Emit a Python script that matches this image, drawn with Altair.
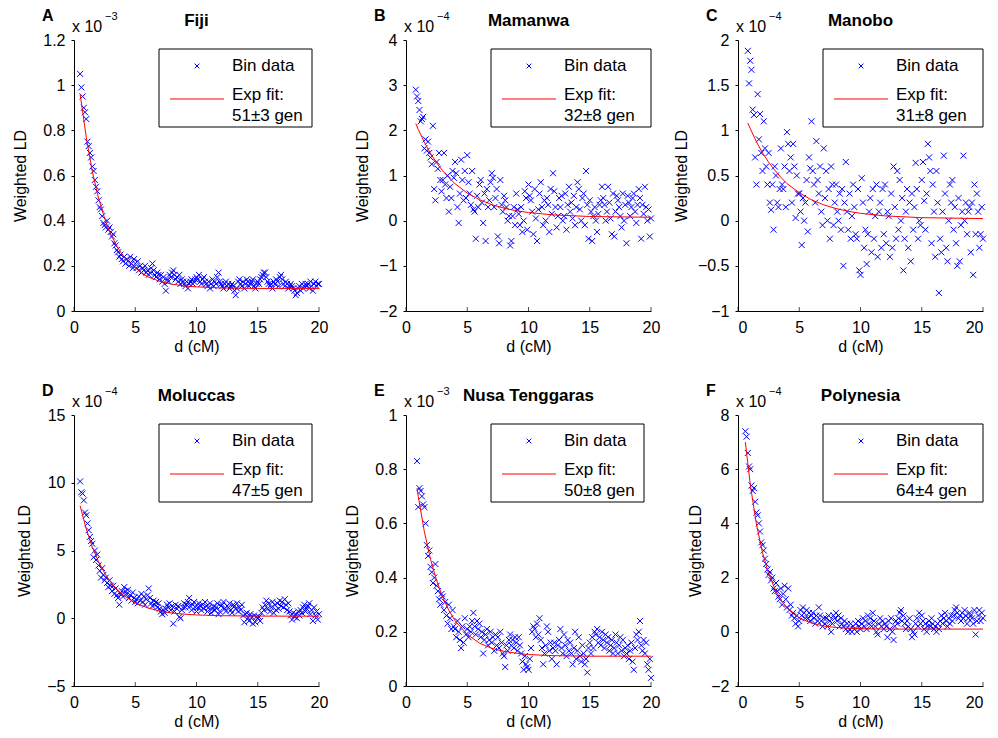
import altair as alt
import pandas as pd

# ---------------- data ----------------
bins_cm = [
    0.5, 0.6, 0.7, 0.8, 0.9,
    1.0, 1.1, 1.2, 1.3, 1.4, 1.5, 1.6, 1.7, 1.8, 1.9,
    2.0, 2.1, 2.2, 2.3, 2.4, 2.5, 2.6, 2.7, 2.8, 2.9,
    3.0, 3.1, 3.2, 3.3, 3.4, 3.5, 3.6, 3.7, 3.8, 3.9,
    4.0, 4.1, 4.2, 4.3, 4.4, 4.5, 4.6, 4.7, 4.8, 4.9,
    5.0, 5.1, 5.2, 5.3, 5.4, 5.5, 5.6, 5.7, 5.8, 5.9,
    6.0, 6.1, 6.2, 6.3, 6.4, 6.5, 6.6, 6.7, 6.8, 6.9,
    7.0, 7.1, 7.2, 7.3, 7.4, 7.5, 7.6, 7.7, 7.8, 7.9,
    8.0, 8.1, 8.2, 8.3, 8.4, 8.5, 8.6, 8.7, 8.8, 8.9,
    9.0, 9.1, 9.2, 9.3, 9.4, 9.5, 9.6, 9.7, 9.8, 9.9,
    10.0, 10.1, 10.2, 10.3, 10.4, 10.5, 10.6, 10.7, 10.8, 10.9,
    11.0, 11.1, 11.2, 11.3, 11.4, 11.5, 11.6, 11.7, 11.8, 11.9,
    12.0, 12.1, 12.2, 12.3, 12.4, 12.5, 12.6, 12.7, 12.8, 12.9,
    13.0, 13.1, 13.2, 13.3, 13.4, 13.5, 13.6, 13.7, 13.8, 13.9,
    14.0, 14.1, 14.2, 14.3, 14.4, 14.5, 14.6, 14.7, 14.8, 14.9,
    15.0, 15.1, 15.2, 15.3, 15.4, 15.5, 15.6, 15.7, 15.8, 15.9,
    16.0, 16.1, 16.2, 16.3, 16.4, 16.5, 16.6, 16.7, 16.8, 16.9,
    17.0, 17.1, 17.2, 17.3, 17.4, 17.5, 17.6, 17.7, 17.8, 17.9,
    18.0, 18.1, 18.2, 18.3, 18.4, 18.5, 18.6, 18.7, 18.8, 18.9,
    19.0, 19.1, 19.2, 19.3, 19.4, 19.5, 19.6, 19.7, 19.8, 19.9,
    20.0,
]

# Fiji (x 1e-3)
ld_fiji = [
    1.05, 0.99, 0.95, 0.90, 0.88,
    0.85, 0.75, 0.73, 0.70, 0.68, 0.64, 0.62, 0.58, 0.55, 0.53,
    0.49, 0.46, 0.45, 0.42, 0.39, 0.38, 0.37, 0.40, 0.36, 0.37,
    0.35, 0.33, 0.34, 0.30, 0.29, 0.27, 0.26, 0.24, 0.25, 0.23,
    0.22, 0.24, 0.21, 0.23, 0.22, 0.20, 0.24, 0.21, 0.19, 0.23,
    0.21, 0.19, 0.22, 0.18, 0.20, 0.17, 0.19, 0.18, 0.20, 0.17,
    0.18, 0.16, 0.17, 0.19, 0.21, 0.18, 0.16, 0.15, 0.17, 0.16,
    0.14, 0.16, 0.13, 0.15, 0.12, 0.09, 0.14, 0.13, 0.16, 0.15,
    0.17, 0.18, 0.16, 0.14, 0.15, 0.13, 0.16, 0.12, 0.14, 0.13,
    0.12, 0.11, 0.13, 0.10, 0.12, 0.13, 0.14, 0.12, 0.13, 0.14,
    0.15, 0.14, 0.16, 0.13, 0.12, 0.14, 0.15, 0.13, 0.12, 0.11,
    0.13, 0.10, 0.12, 0.14, 0.11, 0.13, 0.12, 0.15, 0.17, 0.13,
    0.12, 0.11, 0.10, 0.12, 0.13, 0.11, 0.12, 0.10, 0.11, 0.12,
    0.11, 0.09, 0.07, 0.10, 0.13, 0.14, 0.12, 0.11, 0.13, 0.10,
    0.12, 0.14, 0.13, 0.11, 0.12, 0.13, 0.14, 0.11, 0.10, 0.12,
    0.13, 0.12, 0.14, 0.15, 0.16, 0.17, 0.17, 0.15, 0.13, 0.12,
    0.11, 0.12, 0.10, 0.13, 0.12, 0.14, 0.13, 0.11, 0.15, 0.16,
    0.14, 0.12, 0.11, 0.13, 0.12, 0.10, 0.11, 0.12, 0.11, 0.10,
    0.09, 0.07, 0.08, 0.10, 0.11, 0.09, 0.12, 0.10, 0.11, 0.12,
    0.11, 0.12, 0.10, 0.13, 0.11, 0.09, 0.12, 0.13, 0.11, 0.12,
    0.12,
]

# Mamanwa (x 1e-4)
ld_mamanwa = [
    None, None, None, 2.90, 2.75,
    2.65, 2.45, 2.20, 2.25, 2.30, 1.60, 1.80, 1.55, 1.75, 1.50,
    1.40, 1.25, 2.10, 0.70, 0.45, 1.30, 1.15, 1.50, 0.90, 0.65,
    0.90, 1.50, 0.80, 0.50, 1.00, 0.20, 0.75, 0.50, 1.10, 0.95,
    1.30, 1.05, 0.30, -0.05, 0.60, 1.35, 0.90, 0.45, 1.10, 0.50,
    1.45, 0.85, 0.60, 0.35, 1.10, 0.25, 0.20, -0.40, 0.55, 0.30,
    0.80, 0.90, 0.40, -0.05, 0.60, -0.45, 0.70, 0.30, 0.45, 0.85,
    1.05, 0.95, 0.30, 0.50, 0.70, -0.35, -0.50, 0.90, 0.35, 0.20,
    0.55, 0.45, 0.30, 0.00, 0.10, -0.55, -0.45, 0.10, 0.30, -0.10,
    0.60, 0.25, 0.15, -0.10, 0.30, -0.25, 0.00, 0.65, 0.50, -0.20,
    0.80, 0.55, 0.45, 0.20, -0.30, 0.70, 0.05, -0.45, 0.25, 0.60,
    0.85, 0.30, -0.10, 0.45, 0.00, 0.50, 0.35, -0.25, 0.70, 0.15,
    1.05, 0.65, 0.30, -0.15, 0.10, 0.50, 0.30, 0.55, 0.00, 0.10,
    0.60, -0.20, 0.35, 0.75, 0.20, 0.40, 0.05, 0.55, -0.10, 0.30,
    0.85, 0.70, 0.25, 0.00, 0.50, 0.60, -0.10, 1.10, 0.35, -0.40,
    0.45, 0.20, -0.45, 0.10, 0.30, 0.00, -0.25, 0.15, 0.35, 0.45,
    0.75, 0.50, 0.35, 0.00, 0.20, 0.75, 0.40, 0.05, -0.30, 0.60,
    -0.35, 0.20, 0.55, 0.45, 0.30, 0.10, -0.15, 0.60, 0.00, 0.35,
    -0.50, 0.55, 0.40, 0.10, 0.30, 0.50, 0.60, 0.20, -0.05, 0.35,
    0.70, 0.50, -0.40, 0.35, 0.15, 0.75, 0.30, 0.00, 0.25, -0.35,
    0.05,
]

# Manobo (x 1e-4)
ld_manobo = [
    None, None, None, 1.88, 1.52,
    1.77, 1.67, 1.23, 1.17, 0.70, 0.40, 1.40, 0.90, 1.18, 0.75,
    0.55, 1.10, 0.80, 0.60, 0.40, 0.75, 0.20, 0.12, 0.40, -0.10,
    0.60, 0.50, 0.20, 0.15, 0.35, 0.80, 0.40, 0.35, 0.60, 0.15,
    0.98, 0.85, 0.55, 0.70, 0.20, 0.85, 0.60, 0.03, 0.50, 0.30,
    0.30, 0.10, -0.27, 0.25, 0.00, 0.20, 0.45, -0.12, 0.70, 0.58,
    1.10, 0.55, 0.40, 0.20, 0.88, 0.45, 0.30, 0.60, 0.10, -0.05,
    0.80, 0.25, 0.55, 0.00, 0.35, -0.20, 0.60, 0.40, -0.05, 0.20,
    0.40, 0.10, 0.00, 0.30, -0.10, 0.35, -0.50, 0.20, 0.65, 0.10,
    -0.10, 0.30, -0.20, 0.05, 0.40, 0.15, -0.15, -0.20, 0.35, -0.55,
    -0.60, 0.47, 0.20, -0.30, -0.10, -0.48, -0.15, 0.10, 0.25, -0.35,
    0.35, -0.20, 0.05, 0.40, -0.40, 0.10, 0.20, -0.30, 0.35, -0.15,
    0.40, -0.25, 0.10, 0.05, -0.40, 0.30, -0.30, 0.60, 0.15, -0.20,
    0.55, -0.10, 0.45, 0.00, 0.25, -0.55, -0.20, 0.10, 0.35, -0.30,
    0.20, -0.45, 0.30, -0.10, 0.15, 0.64, 0.35, -0.20, 0.00, -0.05,
    0.45, 0.65, 0.22, -0.10, 0.30, 0.85, 0.70, 0.55, -0.25, 0.40,
    0.10, -0.40, 0.55, 0.20, -0.80, -0.20, -0.35, 0.10, 0.72, 0.30,
    -0.30, -0.45, 0.00, 0.40, 0.20, 0.45, -0.10, 0.15, -0.25, -0.50,
    0.25, -0.45, -0.05, 0.10, 0.72, 0.00, 0.20, -0.15, 0.10, 0.15,
    -0.35, 0.20, -0.60, 0.40, -0.15, 0.30, 0.10, -0.30, -0.15, 0.15,
    -0.20,
]

# Moluccas (x 1e-4)
ld_moluccas = [
    10.1, 9.3, 9.2, 8.7, 7.8,
    7.6, 7.0, 6.5, 6.0, 5.7, 5.5, 4.5, 5.0, 4.3, 4.7,
    3.9, 3.5, 3.0, 3.7, 3.2, 2.8, 3.0, 2.6, 2.3, 2.8,
    2.4, 2.0, 2.4, 1.8, 2.2, 1.7, 1.5, 1.0, 1.8, 2.0,
    1.6, 2.3, 2.0, 1.8, 2.1, 1.5, 1.7, 1.3, 1.9, 1.5,
    1.2, 1.4, 1.1, 1.6, 1.3, 1.8, 1.2, 1.6, 1.0, 1.4,
    1.7, 2.2, 1.5, 1.1, 0.9, 1.3, 1.0, 1.2, 0.8, 1.1,
    0.7, 0.5, 0.3, 0.6, 0.4, 0.7, 1.0, 0.8, 1.1, 0.6,
    0.9, -0.4, 0.5, 1.0, 0.7, 0.9, 0.1, 0.0, 0.6, 0.8,
    1.1, 0.8, 1.0, 1.2, 1.5, 0.9, 0.6, 1.0, 1.2, 0.8,
    0.5, 0.8, 1.1, 0.9, 0.6, 1.0, 0.7, 1.2, 0.9, 0.5,
    0.8, 1.1, 0.4, 0.7, 0.9, 0.6, 0.8, 1.1, 0.3, 0.5,
    0.9, 1.0, 1.2, 0.7, 0.5, 0.9, 0.8, 1.1, 0.6, 0.4,
    1.0, 0.9, 0.7, 1.1, 0.5, 0.8, 0.6, 1.0, 0.2, -0.3,
    0.3, 0.4, 0.0, -0.2, 0.3, 0.1, -0.4, 0.2, -0.3, 0.1,
    0.0, 0.1, -0.2, 0.4, 0.8, 0.6, 1.0, 1.3, 0.7, 1.1,
    0.5, 0.8, 1.2, 0.4, 1.0, 0.6, 1.1, 0.7, 1.3, 0.9,
    1.2, 0.8, 1.4, 1.0, 0.6, 1.1, 0.5, 0.2, -0.1, 0.4,
    0.1, 0.3, 0.0, 0.5, 0.2, 0.6, 0.4, 0.8, 1.0, 0.5,
    0.7, 0.9, 1.1, 0.3, 0.6, -0.2, 0.8, 0.2, 0.5, -0.1,
    0.3,
]

# Nusa Tenggaras (x 1e-3)
ld_nusa = [
    None, None, None, None, 0.83,
    0.66, 0.73, 0.72, 0.70, 0.67, 0.66, 0.60, 0.52, 0.48, 0.50,
    0.44, 0.42, 0.38, 0.40, 0.45, 0.37, 0.35, 0.32, 0.30, 0.34,
    0.33, 0.28, 0.31, 0.26, 0.23, 0.30, 0.25, 0.21, 0.28, 0.22,
    0.21, 0.18, 0.24, 0.20, 0.17, 0.14, 0.22, 0.16, 0.25, 0.19,
    0.21, 0.18, 0.22, 0.20, 0.24, 0.27, 0.22, 0.19, 0.24, 0.21,
    0.23, 0.18, 0.20, 0.12, 0.17, 0.19, 0.21, 0.15, 0.17, 0.20,
    0.16, 0.18, 0.13, 0.19, 0.15, 0.18, 0.14, 0.20, 0.16, 0.12,
    0.11, 0.07, 0.15, 0.13, 0.17, 0.19, 0.15, 0.17, 0.14, 0.18,
    0.16, 0.13, 0.18, 0.15, 0.12, 0.09, 0.06, 0.11, 0.08, 0.07,
    0.06, 0.10, 0.14, 0.20, 0.22, 0.21, 0.18, 0.23, 0.19, 0.25,
    0.17, 0.14, 0.08, 0.12, 0.15, 0.22, 0.20, 0.13, 0.16, 0.10,
    0.14, 0.16, 0.13, 0.08, 0.15, 0.17, 0.21, 0.14, 0.12, 0.19,
    0.15, 0.11, 0.17, 0.13, 0.16, 0.12, 0.08, 0.14, 0.20, 0.10,
    0.13, 0.18, 0.11, 0.09, 0.15, 0.12, 0.08, 0.10, 0.05, 0.14,
    0.16, 0.12, 0.18, 0.14, 0.20, 0.19, 0.21, 0.16, 0.18, 0.15,
    0.20, 0.17, 0.14, 0.19, 0.16, 0.18, 0.13, 0.15, 0.17, 0.12,
    0.14, 0.19, 0.16, 0.12, 0.15, 0.18, 0.13, 0.17, 0.11, 0.14,
    0.12, 0.15, 0.10, 0.13, 0.16, 0.09, 0.06, 0.14, 0.19, 0.17,
    0.20, 0.24, 0.15, 0.13, 0.17, 0.12, 0.16, 0.08, 0.06, 0.10,
    0.03,
]

# Polynesia (x 1e-4)
ld_polynesia = [
    None, 7.4, 7.2, 6.6, 6.1,
    6.0, 5.4, 5.2, 5.3, 4.8, 4.4, 4.3, 4.0, 3.7, 3.3,
    3.2, 3.0, 2.7, 2.5, 2.3, 2.1, 2.2, 1.9, 2.0, 1.6,
    1.5, 1.8, 1.5, 1.3, 1.2, 1.6, 1.0, 1.4, 1.7, 1.2,
    0.9, 1.6, 0.8, 1.0, 0.6, 0.7, 0.5, 0.3, 0.6, 0.2,
    0.4, 0.8, 0.6, 0.9, 0.7, 0.5, 0.8, 0.5, 0.7, 0.4,
    0.6, 0.7, 0.5, 0.3, 0.6, 0.4, 0.9, 0.6, 0.4, 0.2,
    0.5, 0.3, 0.5, 0.2, 0.6, 0.4, 0.0, 0.3, 0.6, 0.5,
    0.7, 0.4, 0.6, 0.2, 0.5, 0.3, 0.2, 0.4, 0.1, 0.3,
    0.0, 0.1, 0.3, 0.0, 0.2, 0.1, 0.3, 0.0, 0.4, 0.2,
    0.1, 0.3, 0.5, 0.2, 0.4, 0.1, 0.6, 0.3, 0.5, 0.2,
    0.7, 0.4, 0.2, 0.0, -0.1, 0.3, 0.5, 0.2, 0.4, 0.1,
    0.3, 0.2, -0.2, 0.4, 0.1, 0.5, 0.0, -0.3, 0.2, 0.4,
    0.3, 0.5, 0.7, 0.8, 0.4, 0.6, 0.3, 0.1, 0.4, 0.2,
    0.5, 0.1, -0.2, 0.0, -0.1, 0.3, 0.5, 0.2, 0.7, 0.3,
    0.6, 0.4, 0.1, 0.3, 0.0, 0.2, 0.4, 0.2, 0.5, 0.3,
    0.1, 0.2, 0.0, 0.3, 0.1, 0.4, 0.6, 0.3, 0.5, 0.7,
    0.4, 0.2, 0.5, 0.3, 0.6, 0.4, 0.6, 0.8, 0.9, 0.7,
    0.5, 0.6, 0.4, 0.7, 0.5, 0.8, 0.6, 0.3, 0.5, 0.7,
    0.6, 0.5, 0.3, 0.8, -0.1, 0.4, 0.6, 0.8, 0.4, 0.7,
    0.5,
]

# exponential fit curves, read at a few distances
fit_d_fiji = [0.5, 1, 1.5, 2, 2.5, 3, 3.5, 4, 5, 6, 7, 8, 9, 10, 12, 15, 20]
fit_ld_fiji = [0.96, 0.77, 0.616, 0.50, 0.41, 0.34, 0.286, 0.245, 0.19, 0.152, 0.131, 0.119, 0.111, 0.107, 0.102, 0.10, 0.10]
fit_d_mamanwa = [0.8, 1, 1.5, 2, 2.5, 3, 3.5, 4, 5, 6, 7, 8, 9, 10, 12, 15, 20]
fit_ld_mamanwa = [2.15, 2.02, 1.735, 1.49, 1.28, 1.10, 0.95, 0.82, 0.61, 0.465, 0.355, 0.277, 0.22, 0.18, 0.128, 0.092, 0.075]
fit_d_manobo = [0.8, 1, 1.5, 2, 2.5, 3, 3.5, 4, 5, 6, 7, 8, 9, 10, 12, 15, 20]
fit_ld_manobo = [1.08, 1.02, 0.874, 0.75, 0.647, 0.56, 0.48, 0.41, 0.31, 0.23, 0.175, 0.134, 0.104, 0.081, 0.053, 0.033, 0.023]
fit_d_moluccas = [0.5, 1, 1.5, 2, 2.5, 3, 3.5, 4, 5, 6, 7, 8, 9, 10, 12, 15, 20]
fit_ld_moluccas = [8.3, 6.59, 5.24, 4.18, 3.33, 2.66, 2.14, 1.72, 1.13, 0.77, 0.53, 0.39, 0.30, 0.244, 0.187, 0.16, 0.15]
fit_d_nusa = [0.9, 1, 1.5, 2, 2.5, 3, 3.5, 4, 5, 6, 7, 8, 9, 10, 12, 15, 20]
fit_ld_nusa = [0.73, 0.70, 0.569, 0.468, 0.389, 0.327, 0.279, 0.241, 0.19, 0.158, 0.139, 0.128, 0.121, 0.116, 0.112, 0.11, 0.11]
fit_d_polynesia = [0.6, 1, 1.5, 2, 2.5, 3, 3.5, 4, 5, 6, 7, 8, 9, 10, 12, 15, 20]
fit_ld_polynesia = [7.0, 5.44, 3.98, 2.92, 2.15, 1.59, 1.18, 0.88, 0.51, 0.32, 0.21, 0.16, 0.13, 0.115, 0.10, 0.10, 0.10]

x_ticks = [0, 5, 10, 15, 20]
panel_letters = ["A", "B", "C", "D", "E", "F"]
panel_titles = ["Fiji", "Mamanwa", "Manobo", "Moluccas", "Nusa Tenggaras", "Polynesia"]
panel_fits = ["51±3 gen", "32±8 gen", "31±8 gen", "47±5 gen", "50±8 gen", "64±4 gen"]
panel_exponents = ["−3", "−4", "−4", "−4", "−3", "−4"]
panel_ld = [ld_fiji, ld_mamanwa, ld_manobo, ld_moluccas, ld_nusa, ld_polynesia]
panel_fit_d = [fit_d_fiji, fit_d_mamanwa, fit_d_manobo, fit_d_moluccas, fit_d_nusa, fit_d_polynesia]
panel_fit_ld = [fit_ld_fiji, fit_ld_mamanwa, fit_ld_manobo, fit_ld_moluccas, fit_ld_nusa, fit_ld_polynesia]
panel_domains = [[0, 1.2], [-2, 4], [-1, 2], [-5, 15], [0, 1], [-2, 8]]
panel_yticks = [
    [0, 0.2, 0.4, 0.6, 0.8, 1, 1.2],
    [-2, -1, 0, 1, 2, 3, 4],
    [-1, -0.5, 0, 0.5, 1, 1.5, 2],
    [-5, 0, 5, 10, 15],
    [0, 0.2, 0.4, 0.6, 0.8, 1],
    [-2, 0, 2, 4, 6, 8],
]

# ---------------- styling ----------------
FONT = "Liberation Sans"
BLUE = "#0000ff"
RED = "#ff0000"
XSHAPE = "M-1,-1L1,1M-1,1L1,-1"
W = 245
H = 271
LEG_W = [153, 160, 160, 153, 153, 160]
YTITLE_PAD = [14, 8, 8, 14, 14, 7]
X_FLUSH = [False, False, 5, False, False, 5]   # keep the last "20" inside the page on the right column
one = pd.DataFrame({"k": [0]})


def txt(x, y, s, size, bold=False, align="left"):
    return alt.Chart(one).mark_text(
        text=s, font=FONT, fontSize=size, fontWeight="bold" if bold else "normal",
        align=align, baseline="middle", color="black",
    ).encode(x=alt.value(x), y=alt.value(y))


def panel(i):
    df = pd.DataFrame({"d": bins_cm, "ld": panel_ld[i]}).dropna()
    fit = pd.DataFrame({"d": panel_fit_d[i], "ld": panel_fit_ld[i]})
    xs = alt.Scale(domain=[0, 20], nice=False, zero=False)
    ys = alt.Scale(domain=panel_domains[i], nice=False, zero=False)
    xax = alt.Axis(values=x_ticks, tickSize=0, labelPadding=8, titlePadding=3,
                   grid=False, format="~g", labelFlush=X_FLUSH[i])
    yax = alt.Axis(values=panel_yticks[i], tickSize=3, labelPadding=6,
                   titlePadding=YTITLE_PAD[i], grid=False, format="~g", labelFlush=False)
    X = alt.X("d:Q", scale=xs, axis=xax, title="d (cM)")
    Y = alt.Y("ld:Q", scale=ys, axis=yax, title="Weighted LD")

    pts = alt.Chart(df).mark_point(
        shape=XSHAPE, size=36, filled=False, color=BLUE, strokeWidth=1, opacity=1
    ).encode(x=X, y=Y)
    line = alt.Chart(fit).mark_line(color=RED, strokeWidth=1).encode(
        x=alt.X("d:Q", title="d (cM)"), y=alt.Y("ld:Q", title="Weighted LD"))
    ticks = alt.Chart(pd.DataFrame({"d": x_ticks})).mark_tick(
        color="black", thickness=1, size=4
    ).encode(x=alt.X("d:Q", title="d (cM)"), y=alt.value(H - 2))

    bx, by, bw, bh = 85, 9, LEG_W[i], 78
    box = alt.Chart(one).mark_rect(fill="white", stroke="black", strokeWidth=1).encode(
        x=alt.value(bx), x2=alt.value(bx + bw), y=alt.value(by), y2=alt.value(by + bh))
    lmark = alt.Chart(one).mark_point(
        shape=XSHAPE, size=22, filled=False, color=BLUE, strokeWidth=1, opacity=1
    ).encode(x=alt.value(bx + 38), y=alt.value(by + 17))
    lline = alt.Chart(one).mark_rule(color=RED, strokeWidth=1).encode(
        x=alt.value(bx + 11), x2=alt.value(bx + 65), y=alt.value(by + 50))

    layers = [
        pts, line, ticks, box, lmark, lline,
        txt(bx + 73, by + 17, "Bin data", 17),
        txt(bx + 73, by + 46, "Exp fit:", 17),
        txt(bx + 73, by + 67, panel_fits[i], 17),
        txt(-32, -24, panel_letters[i], 16, bold=True),
        txt(W / 2, -19, panel_titles[i], 17, bold=True, align="center"),
        txt(-2, -13, "x 10", 16),
        txt(31, -23, panel_exponents[i], 11),
    ]
    return alt.layer(*layers).properties(width=W, height=H)


chart = alt.concat(
    *[panel(i) for i in range(6)], columns=3,
    spacing={"row": 104, "column": 87}, bounds="flush",
).properties(
    padding={"left": 4, "top": 0, "right": 0, "bottom": 0}
).configure_view(stroke=None).configure_axis(
    domainColor="black", domainWidth=1, tickColor="black", tickWidth=1,
    labelColor="black", titleColor="black", labelFont=FONT, titleFont=FONT,
    labelFontSize=16, titleFontSize=16, titleFontWeight="normal", grid=False,
)

chart.save("out.html", embed_options={"renderer": "svg", "actions": False})
